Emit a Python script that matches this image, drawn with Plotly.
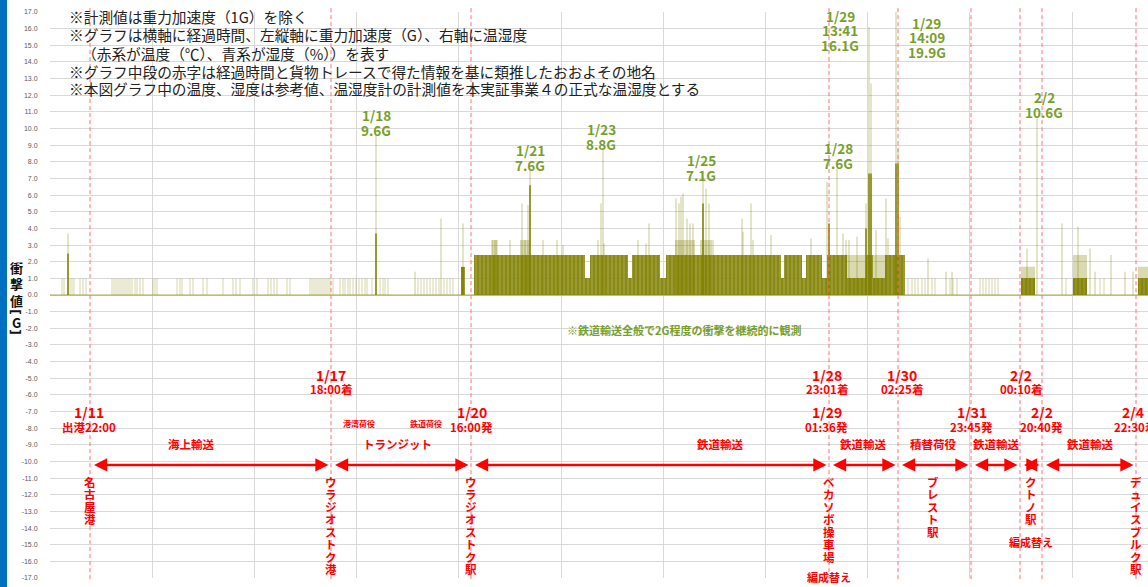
import plotly.graph_objects as go

# ---------------- data (x = elapsed record position, y = shock value G) ----------------
record_span = [0, 1098]
baseline_g = [0.0, 0.0]

# small pulses (light)
pulse_x = [12, 14, 20, 22, 24, 30, 33, 36,
           62, 64, 66, 68, 70, 72, 74, 76, 78, 80, 82, 85, 87, 90, 93, 103, 105, 107,
           127, 130, 132, 140, 143, 153, 157, 173, 183, 186, 190, 203, 207,
           218, 221, 224, 227, 237, 240,
           260, 262, 264, 266, 268, 270, 272, 274, 276, 278, 280, 283,
           290, 293, 295, 298, 300, 303, 306, 309, 312, 315, 317,
           322, 330, 333, 335, 338,
           368, 371, 374, 377, 380, 383, 386, 389, 394, 397, 400, 403,
           858, 862, 865, 868, 872, 875, 882, 885, 900, 903, 907,
           930, 933, 936, 939, 942, 945, 948, 1016, 1050, 1054]
pulse_g = [1.0, 1.0, 1.0, 1.0, 1.0, 1.0, 1.0, 1.0,
           1.0, 1.0, 1.0, 1.0, 1.0, 1.0, 1.0, 1.0, 1.0, 1.0, 1.0, 1.0, 1.0, 1.0, 1.0, 1.0, 1.0, 1.0,
           1.0, 1.0, 1.0, 1.0, 1.0, 1.0, 1.0, 1.0, 1.0, 1.0, 1.0, 1.0, 1.0,
           1.0, 1.0, 1.0, 1.0, 1.0, 1.0,
           1.0, 1.0, 1.0, 1.0, 1.0, 1.0, 1.0, 1.0, 1.0, 1.0, 1.0, 1.0,
           1.0, 1.0, 1.0, 1.0, 1.0, 1.0, 1.0, 1.0, 1.0, 1.0, 1.0,
           1.0, 1.0, 1.0, 1.0, 1.0,
           1.0, 1.0, 1.0, 1.0, 1.0, 1.0, 1.0, 1.0, 1.0, 1.0, 1.0, 1.0,
           1.0, 1.0, 1.0, 1.0, 1.0, 1.0, 1.0, 1.0, 1.0, 1.0, 1.0,
           1.0, 1.0, 1.0, 1.0, 1.0, 1.0, 1.0, 1.0, 1.0, 1.0]

# taller shocks: peak value and the darker (overlapping) lower part
peak_x = [18, 326, 365, 391, 413,
          442, 445, 447, 460, 472, 475, 478, 480, 493, 507, 513,
          548, 551, 553, 554, 588, 596, 599,
          626, 629, 631, 633, 637, 640, 643, 653, 656, 659, 663,
          692, 693, 701, 703, 721,
          761, 777, 779, 787, 793, 796, 799, 807, 816, 819, 821, 826, 836, 838,
          846, 848, 850, 878, 896, 902, 977, 987, 1012, 1028, 1040, 1045, 1061, 1075, 1083]
peak_g = [3.7, 9.6, 1.4, 4.6, 4.3,
          3.3, 3.3, 3.3, 3.3, 5.5, 3.3, 5.4, 7.6, 3.3, 3.3, 3.0,
          3.3, 5.5, 8.8, 3.1, 3.3, 3.1, 4.3,
          5.8, 5.5, 5.9, 6.1, 4.6, 4.3, 4.3, 7.1, 6.4, 5.5, 3.3,
          4.6, 3.8, 5.5, 3.3, 3.6,
          3.4, 6.8, 4.3, 7.6, 3.7, 3.3, 3.3, 3.5, 5.5, 16.1, 12.7, 3.9, 5.8, 3.4,
          19.9, 8.8, 4.7, 2.2, 1.4, 1.4, 2.8, 10.6, 4.3, 4.1, 2.8, 1.4, 2.4, 1.4, 1.4]
peak_core = [2.5, 3.7, 0.0, 0.0, 1.7,
             0.0, 0.0, 0.0, 0.0, 0.0, 0.0, 0.0, 6.6, 0.0, 0.0, 0.0,
             0.0, 0.0, 0.0, 0.0, 0.0, 0.0, 0.0,
             0.0, 0.0, 0.0, 0.0, 0.0, 0.0, 0.0, 5.5, 0.0, 0.0, 0.0,
             0.0, 0.0, 0.0, 0.0, 0.0,
             0.0, 0.0, 4.3, 0.0, 0.0, 0.0, 0.0, 0.0, 4.0, 7.3, 7.3, 0.0, 0.0, 0.0,
             7.9, 7.9, 0.0, 0.0, 0.0, 0.0, 0.0, 0.0, 0.0, 0.0, 0.0, 0.0, 0.0, 0.0, 0.0]

# continuous dense shock bands (dark)
band_start = [411, 424, 535, 540, 578, 582, 610, 616, 731, 734, 752, 756, 772, 777, 797, 816, 823, 835, 971, 1023, 1088]
band_end   = [415, 535, 540, 578, 582, 610, 616, 731, 734, 752, 756, 772, 777, 797, 816, 823, 835, 855, 985, 1037, 1098]
band_g     = [1.7, 2.4, 1.0, 2.4, 1.0, 2.4, 1.0, 2.4, 1.0, 2.4, 1.0, 2.4, 1.0, 2.4, 1.0, 2.4, 1.0, 2.4, 1.0, 1.0, 1.0]

# lighter envelope above bands
haze_start = [442, 470, 625, 650, 797, 823, 971, 1023, 1088]
haze_end   = [447, 480, 645, 662, 816, 835, 985, 1037, 1098]
haze_g     = [3.3, 3.3, 3.3, 3.3, 2.4, 2.4, 1.7, 2.4, 1.7]

# events (dashed lines) on the same elapsed scale
event_x = [40, 281, 421, 779, 848, 921, 970, 992, 1086]
date_x = [39, 281, 421.7, 776.7, 776.7, 852.3, 921.7, 970.7, 991.7, 1082.7]
date_day = ['1/11', '1/17', '1/20', '1/28', '1/29', '1/30', '1/31', '2/2', '2/2', '2/4']
date_time = ['出港22:00', '18:00着', '16:00発', '23:01着', '01:36発', '02:25着', '23:45発', '00:10着', '20:40発', '22:30着']
date_row = [1, 0, 1, 0, 1, 0, 1, 0, 1, 1]

seg_label = ['海上輸送', 'トランジット', '鉄道輸送', '鉄道輸送', '積替荷役', '鉄道輸送', '鉄道輸送']
seg_x = [141.7, 347, 670, 813, 883, 946, 1040]
sub_label = ['港湾荷役', '鉄道荷役']
sub_x = [309, 376]

place_name = ['名古屋港', 'ウラジオストク港', 'ウラジオストク駅', 'ベカソボ操車場', 'ブレスト駅', 'クトノ駅', 'デュイスブルク駅']
place_x = [40, 281, 421, 779, 883, 980.7, 1086]
regroup_x = [779, 980.7]
regroup_y = [-16.94, -14.84]

peak_lab_x = [326, 480, 551, 651, 788, 790, 876.7, 994]
peak_lab_top = [10.81, 8.71, 9.97, 8.11, 8.83, 16.78, 16.36, 11.87]
peak_lab_lines = [['1/18', '9.6G'], ['1/21', '7.6G'], ['1/23', '8.8G'], ['1/25', '7.1G'], ['1/28', '7.6G'],
                  ['1/29', '13:41', '16.1G'], ['1/29', '14:09', '19.9G'], ['2/2', '10.6G']]

notes = ['※計測値は重力加速度（1G）を除く',
         '※グラフは横軸に経過時間、左縦軸に重力加速度（G）、右軸に温湿度',
         '（赤系が温度（℃）、青系が湿度（%））を表す',
         '※グラフ中段の赤字は経過時間と貨物トレースで得た情報を基に類推したおおよその地名',
         '※本図グラフ中の温度、湿度は参考値、温湿度計の計測値を本実証事業４の正式な温湿度とする']
notes_y = [16.72, 15.62, 14.52, 13.45, 12.41]
notes_indent = [0, 0, 1, 0, 0]

y_ticks = [v for v in range(-17, 18)]

# ---------------- styling ----------------
W, H = 1148, 587
ML, MR, MT, MB = 50, 0, 12, 9
OLIVE = '#808000'
LIGHT = 'rgba(128,128,0,0.33)'
HAZE = 'rgba(128,128,0,0.30)'
RED = '#FF0000'
GREEN = '#77A02A'
JP = 'Noto Sans CJK JP'
PW = W - ML - MR
PH = H - MT - MB
PXG = PH / 34.0  # pixels per G

fig = go.Figure()


def rects(s_list, e_list, g_list):
    xs, ys = [], []
    for s, e, g in zip(s_list, e_list, g_list):
        xs += [s, s, e, e, s, None]
        ys += [0, g, g, 0, 0, None]
    return xs, ys


def sticks(x_list, g_list):
    xs, ys = [], []
    for x, g in zip(x_list, g_list):
        if g > 0:
            xs += [x, x, None]
            ys += [0, g, None]
    return xs, ys


hx, hy = rects(haze_start, haze_end, haze_g)
fig.add_trace(go.Scatter(x=hx, y=hy, fill='toself', fillcolor=HAZE, mode='lines',
                         line=dict(width=0), hoverinfo='skip', showlegend=False))

px_, py_ = sticks(pulse_x, pulse_g)
fig.add_trace(go.Scatter(x=px_, y=py_, mode='lines', line=dict(color=LIGHT, width=1),
                         hoverinfo='skip', showlegend=False))

kx, ky = sticks(peak_x, peak_g)
fig.add_trace(go.Scatter(x=kx, y=ky, mode='lines', line=dict(color=LIGHT, width=1.3),
                         hoverinfo='skip', showlegend=False))

# dense bands drawn as bars with a fine vertical-stripe texture
fig.add_trace(go.Bar(
    x=[(s + e) / 2 for s, e in zip(band_start, band_end)],
    width=[e - s for s, e in zip(band_start, band_end)],
    y=band_g, base=0,
    marker=dict(color='rgba(128,128,0,0.92)', line=dict(width=0),
                pattern=dict(shape='|', fgcolor='white', fgopacity=0.35, size=4, solidity=0.2)),
    hoverinfo='skip', showlegend=False))

cx, cy = sticks(peak_x, peak_core)
fig.add_trace(go.Scatter(x=cx, y=cy, mode='lines', line=dict(color=OLIVE, width=1.5),
                         hoverinfo='skip', showlegend=False))

fig.add_trace(go.Scatter(x=record_span, y=baseline_g, mode='lines',
                         line=dict(color='rgba(128,128,0,0.45)', width=1.5),
                         hoverinfo='skip', showlegend=False))

shapes = []
# blue bar at left edge
shapes.append(dict(type='rect', xref='paper', yref='paper', x0=-ML / PW, x1=(7 - ML) / PW,
                   y0=-MB / PH, y1=1 + MT / PH, fillcolor='#0070C0', line=dict(width=0), layer='above'))
# event dashed lines
for ex in event_x:
    shapes.append(dict(type='line', xref='x', yref='paper', x0=ex, x1=ex, y0=-0.002, y1=1 + 6 / PH,
                       line=dict(color='#FF7070', width=1, dash='4px,3px'), layer='above'))

ann = []
# arrows between events
ARROW_Y = -10.21
for a, b in zip(event_x[:-1], event_x[1:]):
    ann.append(dict(x=b - 2.5, y=ARROW_Y, ax=a + 2.5, ay=ARROW_Y, xref='x', yref='y', axref='x', ayref='y',
                    text='', showarrow=True, arrowside='end+start', arrowhead=2, arrowsize=1.1,
                    arrowwidth=2.4, arrowcolor=RED))

# date labels
ROW_Y = [(-4.81, -5.67), (-7.05, -7.9)]
for x, d, t, r in zip(date_x, date_day, date_time, date_row):
    y1, y2 = ROW_Y[r]
    ann.append(dict(x=x, y=y1, xref='x', yref='y', text='<b>' + d + '</b>', showarrow=False,
                    font=dict(family=JP, size=14, color=RED), xanchor='center', yanchor='middle'))
    ann.append(dict(x=x + (2.3 if d == '2/4' else 0), y=y2, xref='x', yref='y', text='<b>' + t + '</b>',
                    showarrow=False, font=dict(family=JP, size=11.5, color=RED),
                    xanchor='center', yanchor='middle'))

for t, x in zip(seg_label, seg_x):
    ann.append(dict(x=x, y=-8.95, xref='x', yref='y', text='<b>' + t + '</b>', showarrow=False,
                    font=dict(family=JP, size=11.5, color=RED), xanchor='center', yanchor='middle'))
for t, x in zip(sub_label, sub_x):
    ann.append(dict(x=x, y=-7.69, xref='x', yref='y', text='<b>' + t + '</b>', showarrow=False,
                    font=dict(family=JP, size=8, color=RED), xanchor='center', yanchor='middle'))

# vertical place names
CH_TOP, CH_STEP = -11.23, 12.5 / PXG
for name, x in zip(place_name, place_x):
    for i, ch in enumerate(name):
        ann.append(dict(x=x, y=CH_TOP - i * CH_STEP, xref='x', yref='y', text='<b>' + ch + '</b>',
                        showarrow=False, font=dict(family=JP, size=11.5, color=RED),
                        xanchor='center', yanchor='middle'))
for x, y in zip(regroup_x, regroup_y):
    ann.append(dict(x=x, y=y, xref='x', yref='y', text='<b>編成替え</b>', showarrow=False,
                    font=dict(family=JP, size=11, color=RED), xanchor='center', yanchor='middle'))

# peak labels
for x, top, lines in zip(peak_lab_x, peak_lab_top, peak_lab_lines):
    for i, ln in enumerate(lines):
        ann.append(dict(x=x, y=top - i * 0.88, xref='x', yref='y', text='<b>' + ln + '</b>', showarrow=False,
                        font=dict(family=JP, size=13.5, color=GREEN), xanchor='center', yanchor='middle'))

ann.append(dict(x=634, y=-2.1, xref='x', yref='y', text='<b>※鉄道輸送全般で2G程度の衝撃を継続的に観測</b>',
                showarrow=False, font=dict(family=JP, size=11, color=GREEN), xanchor='center', yanchor='middle'))

# notes
for t, y, ind in zip(notes, notes_y, notes_indent):
    ann.append(dict(x=(67 - ML + ind * 13) / PW, y=y, xref='paper', yref='y', text=t, showarrow=False,
                    font=dict(family=JP, size=14.7, color='#222222'), xanchor='left', yanchor='middle'))

# vertical axis title (brackets turned for vertical writing)
title_chars = ['衝', '撃', '値', '[', 'G', ']']
title_py = [267, 283, 300, 312, 322, 332]
title_rot = [0, 0, 0, 90, 0, 90]
for ch, py, rot in zip(title_chars, title_py, title_rot):
    ann.append(dict(x=(16 - ML) / PW, y=(295 - py) / PXG, xref='paper', yref='y', text='<b>' + ch + '</b>',
                    showarrow=False, textangle=rot,
                    font=dict(family=JP if rot == 0 else 'DejaVu Sans', size=13, color='#111111'),
                    xanchor='center', yanchor='middle'))

fig.update_layout(
    width=W, height=H, margin=dict(l=ML, r=MR, t=MT, b=MB, pad=0, autoexpand=False),
    paper_bgcolor='white', plot_bgcolor='white', barmode='overlay', bargap=0,
    shapes=shapes, annotations=ann, showlegend=False,
    xaxis=dict(range=record_span, showgrid=True, gridcolor='#D9D9D9', gridwidth=1, tick0=0, dtick=102.2,
               showticklabels=False, zeroline=False, showline=False, ticks='', automargin=False),
    yaxis=dict(range=[-17, 17], tickvals=y_ticks, ticktext=['%.1f' % v for v in y_ticks],
               showgrid=True, gridcolor='#D9D9D9', gridwidth=1, zeroline=False, showline=False,
               ticks='outside', ticklen=10, tickcolor='rgba(0,0,0,0)', automargin=False,
               tickfont=dict(family='Liberation Sans', size=7, color='#595959')),
)

fig.write_html('out.html', config={'displayModeBar': False},
               post_script="document.body.style.margin='0';document.body.style.overflow='hidden';")
